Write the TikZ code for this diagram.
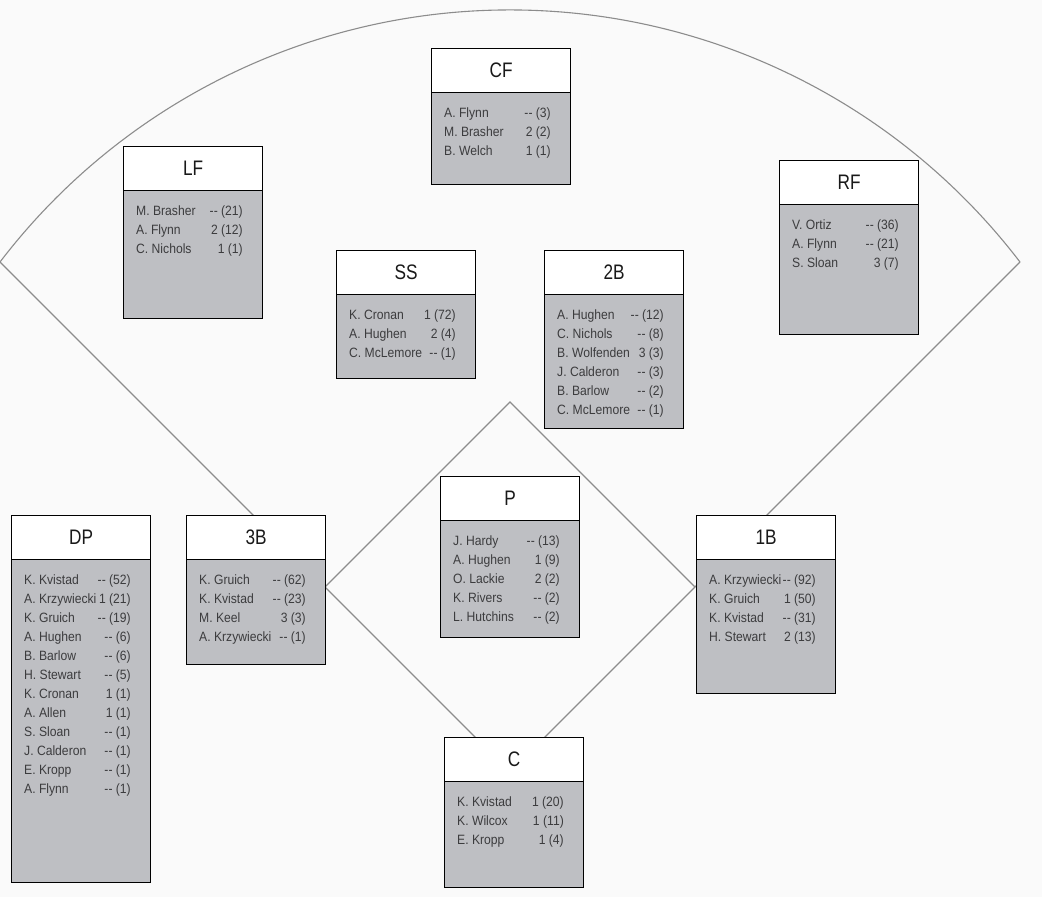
\documentclass[tikz,border=0pt]{standalone}
\usepackage{fontspec}
\setmainfont{Liberation Sans}
\newfontfamily\bodyfont{Liberation Sans}[FakeStretch=0.9]
\newfontfamily\ttlfont{Liberation Sans}[FakeStretch=0.82]
\definecolor{fieldline}{RGB}{140,140,140}
\definecolor{boxgray}{RGB}{190,191,195}
\definecolor{txtcol}{RGB}{60,60,62}
\definecolor{titlecol}{RGB}{25,25,25}
\definecolor{bgcol}{RGB}{250,250,250}
\newcommand\dd{-{}-}
\tikzset{
  field/.style={draw=fieldline, line width=1.1pt, line join=miter},
  hdr/.style={draw=black, fill=white, line width=1.3pt, minimum width=139pt, minimum height=44pt, inner sep=0pt, anchor=north west},
  bodybox/.style={draw=black, fill=boxgray, line width=1.3pt, minimum width=139pt, inner sep=0pt, anchor=north west},
  ttl/.style={font=\ttlfont\fontsize{21}{21}\selectfont, text=titlecol, inner sep=0pt, anchor=center},
  nm/.style={font=\bodyfont\fontsize{13.5}{14}\selectfont, text=txtcol, inner sep=0pt, anchor=base west},
  st/.style={nm, anchor=base east},
}
% #1 name, #2 left, #3 top, #4 bottom, #5 title, #6 entries
\newcommand\fieldbox[6]{%
  \node[bodybox, minimum height={#4-#3-44}] (#1b) at (#2,#3+44) {};
  \node[hdr] (#1h) at (#2,#3) {};
  \node[ttl] (#1t) at (#1h.center) {#5};
  \foreach \n/\s [count=\i] in {#6} {
    \node[nm] (#1n\i) at (#2+13, #3+44+25+\i*19-19) {\n};
    \node[st] (#1s\i) at (#2+120, #3+44+25+\i*19-19) {\s};
  }
}
\begin{document}
\begin{tikzpicture}[x=1pt,y=-1pt]
\fill[bgcol] (0,0) rectangle (1042,897);
\useasboundingbox (0,0) rectangle (1042,897);
% field
\coordinate (home) at (510,772);
\coordinate (first) at (695,587);
\coordinate (second) at (510,402);
\coordinate (third) at (325,587);
\coordinate (lfpole) at (0,262);
\coordinate (rfpole) at (1020,262);
\draw[field] (lfpole) arc[start angle=217.4, end angle=322.6, radius=642];
\draw[field] (lfpole) -- (home) -- (rfpole);
\draw[field] (third) -- (second) -- (first);
% boxes
\fieldbox{cf}{431}{48}{184}{CF}{A. Flynn/\dd{} (3), M. Brasher/2 (2), B. Welch/1 (1)}
\fieldbox{lf}{123}{146}{318}{LF}{M. Brasher/\dd{} (21), A. Flynn/2 (12), C. Nichols/1 (1)}
\fieldbox{rf}{779}{160}{334}{RF}{V. Ortiz/\dd{} (36), A. Flynn/\dd{} (21), S. Sloan/3 (7)}
\fieldbox{ss}{336}{250}{378}{SS}{K. Cronan/1 (72), A. Hughen/2 (4), C. McLemore/\dd{} (1)}
\fieldbox{sb}{544}{250}{428}{2B}{A. Hughen/\dd{} (12), C. Nichols/\dd{} (8), B. Wolfenden/3 (3), J. Calderon/\dd{} (3), B. Barlow/\dd{} (2), C. McLemore/\dd{} (1)}
\fieldbox{p}{440}{476}{637}{P}{J. Hardy/\dd{} (13), A. Hughen/1 (9), O. Lackie/2 (2), K. Rivers/\dd{} (2), L. Hutchins/\dd{} (2)}
\fieldbox{dp}{11}{515}{882}{DP}{K. Kvistad/\dd{} (52), A. Krzywiecki/1 (21), K. Gruich/\dd{} (19), A. Hughen/\dd{} (6), B. Barlow/\dd{} (6), H. Stewart/\dd{} (5), K. Cronan/1 (1), A. Allen/1 (1), S. Sloan/\dd{} (1), J. Calderon/\dd{} (1), E. Kropp/\dd{} (1), A. Flynn/\dd{} (1)}
\fieldbox{tb}{186}{515}{664}{3B}{K. Gruich/\dd{} (62), K. Kvistad/\dd{} (23), M. Keel/3 (3), A. Krzywiecki/\dd{} (1)}
\fieldbox{fb}{696}{515}{693}{1B}{A. Krzywiecki/\dd{} (92), K. Gruich/1 (50), K. Kvistad/\dd{} (31), H. Stewart/2 (13)}
\fieldbox{c}{444}{737}{887}{C}{K. Kvistad/1 (20), K. Wilcox/1 (11), E. Kropp/1 (4)}
\end{tikzpicture}
\end{document}
